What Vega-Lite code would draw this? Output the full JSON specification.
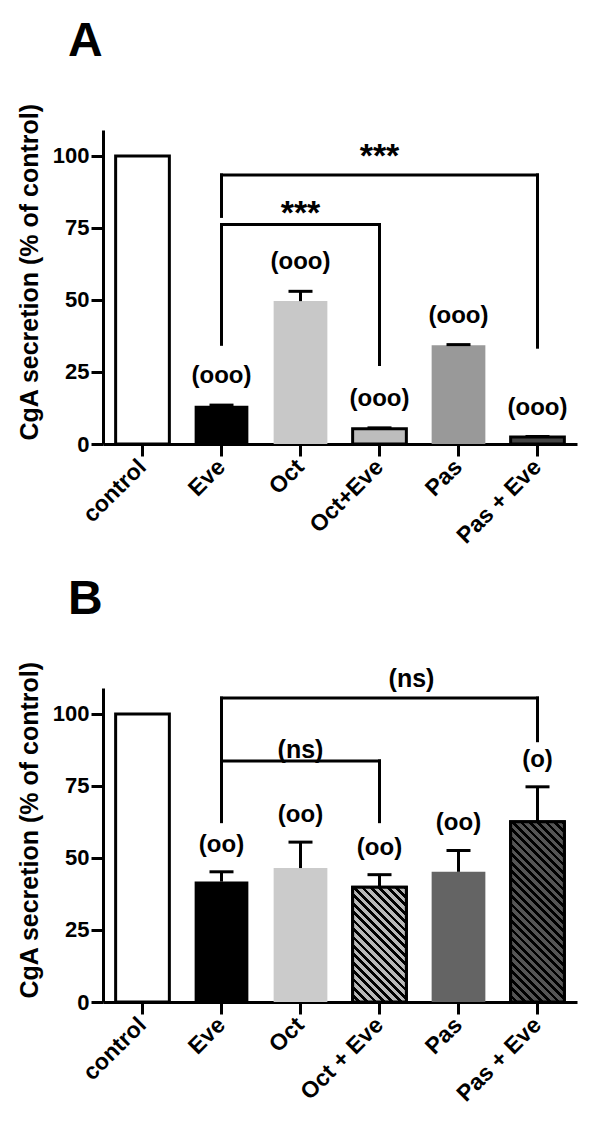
{
  "$schema": "https://vega.github.io/schema/vega-lite/v6.json",
  "background": "white",
  "padding": {"left": 17, "top": 18, "right": 5, "bottom": 5},
  "bounds": "flush",
  "spacing": 244,
  "resolve": {"scale": {"fill": "independent"}},
  "config": {
    "font": "Liberation Sans",
    "view": {"stroke": null},
    "axis": {"domainColor": "black", "domainWidth": 3, "tickColor": "black", "tickWidth": 3, "tickSize": 12, "labelColor": "black", "labelFontWeight": "bold", "labelFont": "Liberation Sans", "titleFont": "Liberation Sans", "titleFontWeight": "bold", "titleColor": "black", "grid": false},
    "title": {"font": "Liberation Sans", "fontWeight": "bold", "fontSize": 48, "color": "black", "anchor": "start", "frame": "group"}
  },
  "vconcat": [
    {
      "width": 474,
      "height": 314,
      "title": {"text": "A", "dx": -35, "offset": 36},
      "layer": [
        {
          "data": {"values": [
            {"treatment": "control", "value": 100},
            {"treatment": "Eve", "value": 13.3, "err": 13.5, "label": "(ooo)"},
            {"treatment": "Oct", "value": 49.6, "err": 53, "label": "(ooo)"},
            {"treatment": "Oct+Eve", "value": 5.3, "err": 5.6, "label": "(ooo)"},
            {"treatment": "Pas", "value": 34.3, "err": 34.5, "label": "(ooo)"},
            {"treatment": "Pas + Eve", "value": 2.4, "err": 2.6, "label": "(ooo)"}
          ]},
          "layer": [
            {
              "mark": {"type": "bar", "strokeWidth": 3},
              "encoding": {
                "x": {"field": "treatment", "type": "nominal", "scale": {"domain": ["control", "Eve", "Oct", "Oct+Eve", "Pas", "Pas + Eve"], "paddingInner": 0.32, "paddingOuter": 0.16}, "axis": {"title": null, "labelAngle": -45, "labelAlign": "right", "labelBaseline": "middle", "labelFontSize": 23, "labelPadding": 7}},
                "y": {"field": "value", "type": "quantitative", "scale": {"domain": [0, 109], "nice": false}, "axis": {"title": "CgA secretion (% of control)", "titleFontSize": 25, "titlePadding": 10, "titleAnchor": "start", "titleY": 310, "labelFontSize": 22, "labelPadding": 2, "values": [0, 25, 50, 75, 100]}},
                "fill": {"field": "treatment", "type": "nominal", "scale": {"domain": ["control", "Eve", "Oct", "Oct+Eve", "Pas", "Pas + Eve"], "range": ["#ffffff", "#000000", "#c8c8c8", "#bdbdbd", "#999999", "#444444"]}, "legend": null},
                "stroke": {"condition": {"test": "indexof(['control','Oct+Eve','Pas + Eve'], datum.treatment) >= 0", "value": "black"}, "value": null}
              }
            },
            {
              "transform": [{"filter": "datum.err > datum.value"}],
              "mark": {"type": "rule", "strokeWidth": 3, "color": "black"},
              "encoding": {"x": {"field": "treatment", "type": "nominal"}, "y": {"field": "value", "type": "quantitative"}, "y2": {"field": "err"}}
            },
            {
              "transform": [{"filter": "isValid(datum.err)"}],
              "mark": {"type": "tick", "size": 24, "thickness": 3, "color": "black", "opacity": 1},
              "encoding": {"x": {"field": "treatment", "type": "nominal"}, "y": {"field": "err", "type": "quantitative"}}
            },
            {
              "transform": [{"filter": "isValid(datum.label)"}],
              "mark": {"type": "text", "fontSize": 24, "fontWeight": "bold", "color": "black", "baseline": "middle", "dy": -29},
              "encoding": {"x": {"field": "treatment", "type": "nominal"}, "y": {"field": "err", "type": "quantitative"}, "text": {"field": "label"}}
            }
          ]
        },
        {
          "data": {"values": [
            {"from": "Eve", "to": "Pas + Eve", "y1": 93.4, "y2": 93.4},
            {"from": "Eve", "to": "Eve", "y1": 79, "y2": 93.4},
            {"from": "Pas + Eve", "to": "Pas + Eve", "y1": 33.6, "y2": 93.4},
            {"from": "Eve", "to": "Oct+Eve", "y1": 76.2, "y2": 76.2},
            {"from": "Eve", "to": "Eve", "y1": 34.6, "y2": 76.2},
            {"from": "Oct+Eve", "to": "Oct+Eve", "y1": 27.6, "y2": 76.2}
          ]},
          "mark": {"type": "rule", "strokeWidth": 3, "color": "black", "strokeCap": "square"},
          "encoding": {"x": {"field": "from", "type": "nominal"}, "x2": {"field": "to"}, "y": {"field": "y1", "type": "quantitative"}, "y2": {"field": "y2"}}
        },
        {
          "data": {"values": [
            {"at": "Oct+Eve", "level": 101.7, "sig": "***"},
            {"at": "Oct", "level": 81.8, "sig": "***"}
          ]},
          "mark": {"type": "text", "fontSize": 34, "fontWeight": "bold", "color": "black", "baseline": "middle", "dy": 6},
          "encoding": {"x": {"field": "at", "type": "nominal"}, "y": {"field": "level", "type": "quantitative"}, "text": {"field": "sig"}}
        }
      ]
    },
    {
      "width": 474,
      "height": 314,
      "title": {"text": "B", "dx": -35, "offset": 36},
      "layer": [
        {
          "data": {"values": [
            {"treatment": "control", "value": 100},
            {"treatment": "Eve", "value": 41.8, "err": 45.2, "label": "(oo)"},
            {"treatment": "Oct", "value": 46.5, "err": 55.5, "label": "(oo)"},
            {"treatment": "Oct + Eve", "value": 39.8, "err": 44.2, "label": "(oo)"},
            {"treatment": "Pas", "value": 45.2, "err": 52.6, "label": "(oo)"},
            {"treatment": "Pas + Eve", "value": 62.6, "err": 74.7, "label": "(o)"}
          ]},
          "layer": [
            {
              "mark": {"type": "bar", "strokeWidth": 3},
              "encoding": {
                "x": {"field": "treatment", "type": "nominal", "scale": {"domain": ["control", "Eve", "Oct", "Oct + Eve", "Pas", "Pas + Eve"], "paddingInner": 0.32, "paddingOuter": 0.16}, "axis": {"title": null, "labelAngle": -45, "labelAlign": "right", "labelBaseline": "middle", "labelFontSize": 23, "labelPadding": 7}},
                "y": {"field": "value", "type": "quantitative", "scale": {"domain": [0, 109], "nice": false}, "axis": {"title": "CgA secretion (% of control)", "titleFontSize": 25, "titlePadding": 10, "titleAnchor": "start", "titleY": 310, "labelFontSize": 22, "labelPadding": 2, "values": [0, 25, 50, 75, 100]}},
                "fill": {"field": "treatment", "type": "nominal", "scale": {"domain": ["control", "Eve", "Oct", "Oct + Eve", "Pas", "Pas + Eve"], "range": ["#ffffff", "#000000", "#cbcbcb", "#b8b8b8", "#646464", "#555555"]}, "legend": null},
                "stroke": {"condition": {"test": "indexof(['control','Oct + Eve','Pas + Eve'], datum.treatment) >= 0", "value": "black"}, "value": null}
              }
            },
            {
              "transform": [{"filter": "datum.treatment == 'Oct + Eve'"}],
              "mark": {"type": "bar", "strokeWidth": 3, "stroke": "black", "fill": {"gradient": "linear", "x1": 0, "y1": 1, "x2": 0.564, "y2": -0.204, "stops": [
                {"offset": 0, "color": "#b8b8b8"}, {"offset": 0.0275, "color": "#b8b8b8"}, {"offset": 0.0275, "color": "#000000"}, {"offset": 0.05, "color": "#000000"},
                {"offset": 0.05, "color": "#b8b8b8"}, {"offset": 0.0775, "color": "#b8b8b8"}, {"offset": 0.0775, "color": "#000000"}, {"offset": 0.1, "color": "#000000"},
                {"offset": 0.1, "color": "#b8b8b8"}, {"offset": 0.1275, "color": "#b8b8b8"}, {"offset": 0.1275, "color": "#000000"}, {"offset": 0.15, "color": "#000000"},
                {"offset": 0.15, "color": "#b8b8b8"}, {"offset": 0.1775, "color": "#b8b8b8"}, {"offset": 0.1775, "color": "#000000"}, {"offset": 0.2, "color": "#000000"},
                {"offset": 0.2, "color": "#b8b8b8"}, {"offset": 0.2275, "color": "#b8b8b8"}, {"offset": 0.2275, "color": "#000000"}, {"offset": 0.25, "color": "#000000"},
                {"offset": 0.25, "color": "#b8b8b8"}, {"offset": 0.2775, "color": "#b8b8b8"}, {"offset": 0.2775, "color": "#000000"}, {"offset": 0.3, "color": "#000000"},
                {"offset": 0.3, "color": "#b8b8b8"}, {"offset": 0.3275, "color": "#b8b8b8"}, {"offset": 0.3275, "color": "#000000"}, {"offset": 0.35, "color": "#000000"},
                {"offset": 0.35, "color": "#b8b8b8"}, {"offset": 0.3775, "color": "#b8b8b8"}, {"offset": 0.3775, "color": "#000000"}, {"offset": 0.4, "color": "#000000"},
                {"offset": 0.4, "color": "#b8b8b8"}, {"offset": 0.4275, "color": "#b8b8b8"}, {"offset": 0.4275, "color": "#000000"}, {"offset": 0.45, "color": "#000000"},
                {"offset": 0.45, "color": "#b8b8b8"}, {"offset": 0.4775, "color": "#b8b8b8"}, {"offset": 0.4775, "color": "#000000"}, {"offset": 0.5, "color": "#000000"},
                {"offset": 0.5, "color": "#b8b8b8"}, {"offset": 0.5275, "color": "#b8b8b8"}, {"offset": 0.5275, "color": "#000000"}, {"offset": 0.55, "color": "#000000"},
                {"offset": 0.55, "color": "#b8b8b8"}, {"offset": 0.5775, "color": "#b8b8b8"}, {"offset": 0.5775, "color": "#000000"}, {"offset": 0.6, "color": "#000000"},
                {"offset": 0.6, "color": "#b8b8b8"}, {"offset": 0.6275, "color": "#b8b8b8"}, {"offset": 0.6275, "color": "#000000"}, {"offset": 0.65, "color": "#000000"},
                {"offset": 0.65, "color": "#b8b8b8"}, {"offset": 0.6775, "color": "#b8b8b8"}, {"offset": 0.6775, "color": "#000000"}, {"offset": 0.7, "color": "#000000"},
                {"offset": 0.7, "color": "#b8b8b8"}, {"offset": 0.7275, "color": "#b8b8b8"}, {"offset": 0.7275, "color": "#000000"}, {"offset": 0.75, "color": "#000000"},
                {"offset": 0.75, "color": "#b8b8b8"}, {"offset": 0.7775, "color": "#b8b8b8"}, {"offset": 0.7775, "color": "#000000"}, {"offset": 0.8, "color": "#000000"},
                {"offset": 0.8, "color": "#b8b8b8"}, {"offset": 0.8275, "color": "#b8b8b8"}, {"offset": 0.8275, "color": "#000000"}, {"offset": 0.85, "color": "#000000"},
                {"offset": 0.85, "color": "#b8b8b8"}, {"offset": 0.8775, "color": "#b8b8b8"}, {"offset": 0.8775, "color": "#000000"}, {"offset": 0.9, "color": "#000000"},
                {"offset": 0.9, "color": "#b8b8b8"}, {"offset": 0.9275, "color": "#b8b8b8"}, {"offset": 0.9275, "color": "#000000"}, {"offset": 0.95, "color": "#000000"},
                {"offset": 0.95, "color": "#b8b8b8"}, {"offset": 0.9775, "color": "#b8b8b8"}, {"offset": 0.9775, "color": "#000000"}, {"offset": 1, "color": "#000000"}
              ]}},
              "encoding": {"x": {"field": "treatment", "type": "nominal"}, "y": {"field": "value", "type": "quantitative"}}
            },
            {
              "transform": [{"filter": "datum.treatment == 'Pas + Eve'"}],
              "mark": {"type": "bar", "strokeWidth": 3, "stroke": "black", "fill": {"gradient": "linear", "x1": 0, "y1": 1, "x2": 0.355, "y2": -0.192, "stops": [
                {"offset": 0, "color": "#555555"}, {"offset": 0.0196, "color": "#555555"}, {"offset": 0.0196, "color": "#000000"}, {"offset": 0.0357, "color": "#000000"},
                {"offset": 0.0357, "color": "#555555"}, {"offset": 0.0554, "color": "#555555"}, {"offset": 0.0554, "color": "#000000"}, {"offset": 0.0714, "color": "#000000"},
                {"offset": 0.0714, "color": "#555555"}, {"offset": 0.0911, "color": "#555555"}, {"offset": 0.0911, "color": "#000000"}, {"offset": 0.1071, "color": "#000000"},
                {"offset": 0.1071, "color": "#555555"}, {"offset": 0.1268, "color": "#555555"}, {"offset": 0.1268, "color": "#000000"}, {"offset": 0.1429, "color": "#000000"},
                {"offset": 0.1429, "color": "#555555"}, {"offset": 0.1625, "color": "#555555"}, {"offset": 0.1625, "color": "#000000"}, {"offset": 0.1786, "color": "#000000"},
                {"offset": 0.1786, "color": "#555555"}, {"offset": 0.1982, "color": "#555555"}, {"offset": 0.1982, "color": "#000000"}, {"offset": 0.2143, "color": "#000000"},
                {"offset": 0.2143, "color": "#555555"}, {"offset": 0.2339, "color": "#555555"}, {"offset": 0.2339, "color": "#000000"}, {"offset": 0.25, "color": "#000000"},
                {"offset": 0.25, "color": "#555555"}, {"offset": 0.2696, "color": "#555555"}, {"offset": 0.2696, "color": "#000000"}, {"offset": 0.2857, "color": "#000000"},
                {"offset": 0.2857, "color": "#555555"}, {"offset": 0.3054, "color": "#555555"}, {"offset": 0.3054, "color": "#000000"}, {"offset": 0.3214, "color": "#000000"},
                {"offset": 0.3214, "color": "#555555"}, {"offset": 0.3411, "color": "#555555"}, {"offset": 0.3411, "color": "#000000"}, {"offset": 0.3571, "color": "#000000"},
                {"offset": 0.3571, "color": "#555555"}, {"offset": 0.3768, "color": "#555555"}, {"offset": 0.3768, "color": "#000000"}, {"offset": 0.3929, "color": "#000000"},
                {"offset": 0.3929, "color": "#555555"}, {"offset": 0.4125, "color": "#555555"}, {"offset": 0.4125, "color": "#000000"}, {"offset": 0.4286, "color": "#000000"},
                {"offset": 0.4286, "color": "#555555"}, {"offset": 0.4482, "color": "#555555"}, {"offset": 0.4482, "color": "#000000"}, {"offset": 0.4643, "color": "#000000"},
                {"offset": 0.4643, "color": "#555555"}, {"offset": 0.4839, "color": "#555555"}, {"offset": 0.4839, "color": "#000000"}, {"offset": 0.5, "color": "#000000"},
                {"offset": 0.5, "color": "#555555"}, {"offset": 0.5196, "color": "#555555"}, {"offset": 0.5196, "color": "#000000"}, {"offset": 0.5357, "color": "#000000"},
                {"offset": 0.5357, "color": "#555555"}, {"offset": 0.5554, "color": "#555555"}, {"offset": 0.5554, "color": "#000000"}, {"offset": 0.5714, "color": "#000000"},
                {"offset": 0.5714, "color": "#555555"}, {"offset": 0.5911, "color": "#555555"}, {"offset": 0.5911, "color": "#000000"}, {"offset": 0.6071, "color": "#000000"},
                {"offset": 0.6071, "color": "#555555"}, {"offset": 0.6268, "color": "#555555"}, {"offset": 0.6268, "color": "#000000"}, {"offset": 0.6429, "color": "#000000"},
                {"offset": 0.6429, "color": "#555555"}, {"offset": 0.6625, "color": "#555555"}, {"offset": 0.6625, "color": "#000000"}, {"offset": 0.6786, "color": "#000000"},
                {"offset": 0.6786, "color": "#555555"}, {"offset": 0.6982, "color": "#555555"}, {"offset": 0.6982, "color": "#000000"}, {"offset": 0.7143, "color": "#000000"},
                {"offset": 0.7143, "color": "#555555"}, {"offset": 0.7339, "color": "#555555"}, {"offset": 0.7339, "color": "#000000"}, {"offset": 0.75, "color": "#000000"},
                {"offset": 0.75, "color": "#555555"}, {"offset": 0.7696, "color": "#555555"}, {"offset": 0.7696, "color": "#000000"}, {"offset": 0.7857, "color": "#000000"},
                {"offset": 0.7857, "color": "#555555"}, {"offset": 0.8054, "color": "#555555"}, {"offset": 0.8054, "color": "#000000"}, {"offset": 0.8214, "color": "#000000"},
                {"offset": 0.8214, "color": "#555555"}, {"offset": 0.8411, "color": "#555555"}, {"offset": 0.8411, "color": "#000000"}, {"offset": 0.8571, "color": "#000000"},
                {"offset": 0.8571, "color": "#555555"}, {"offset": 0.8768, "color": "#555555"}, {"offset": 0.8768, "color": "#000000"}, {"offset": 0.8929, "color": "#000000"},
                {"offset": 0.8929, "color": "#555555"}, {"offset": 0.9125, "color": "#555555"}, {"offset": 0.9125, "color": "#000000"}, {"offset": 0.9286, "color": "#000000"},
                {"offset": 0.9286, "color": "#555555"}, {"offset": 0.9482, "color": "#555555"}, {"offset": 0.9482, "color": "#000000"}, {"offset": 0.9643, "color": "#000000"},
                {"offset": 0.9643, "color": "#555555"}, {"offset": 0.9839, "color": "#555555"}, {"offset": 0.9839, "color": "#000000"}, {"offset": 1, "color": "#000000"}
              ]}},
              "encoding": {"x": {"field": "treatment", "type": "nominal"}, "y": {"field": "value", "type": "quantitative"}}
            },
            {
              "transform": [{"filter": "datum.err > datum.value"}],
              "mark": {"type": "rule", "strokeWidth": 3, "color": "black"},
              "encoding": {"x": {"field": "treatment", "type": "nominal"}, "y": {"field": "value", "type": "quantitative"}, "y2": {"field": "err"}}
            },
            {
              "transform": [{"filter": "isValid(datum.err)"}],
              "mark": {"type": "tick", "size": 24, "thickness": 3, "color": "black", "opacity": 1},
              "encoding": {"x": {"field": "treatment", "type": "nominal"}, "y": {"field": "err", "type": "quantitative"}}
            },
            {
              "transform": [{"filter": "isValid(datum.label)"}],
              "mark": {"type": "text", "fontSize": 24, "fontWeight": "bold", "color": "black", "baseline": "middle", "dy": -27},
              "encoding": {"x": {"field": "treatment", "type": "nominal"}, "y": {"field": "err", "type": "quantitative"}, "text": {"field": "label"}}
            }
          ]
        },
        {
          "data": {"values": [
            {"from": "Eve", "to": "Pas + Eve", "y1": 105.5, "y2": 105.5},
            {"from": "Eve", "to": "Eve", "y1": 76, "y2": 105.5},
            {"from": "Pas + Eve", "to": "Pas + Eve", "y1": 90.7, "y2": 105.5},
            {"from": "Eve", "to": "Oct + Eve", "y1": 83.7, "y2": 83.7},
            {"from": "Eve", "to": "Eve", "y1": 62.6, "y2": 83.7},
            {"from": "Oct + Eve", "to": "Oct + Eve", "y1": 62.6, "y2": 83.7}
          ]},
          "mark": {"type": "rule", "strokeWidth": 3, "color": "black", "strokeCap": "square"},
          "encoding": {"x": {"field": "from", "type": "nominal"}, "x2": {"field": "to"}, "y": {"field": "y1", "type": "quantitative"}, "y2": {"field": "y2"}}
        },
        {
          "data": {"values": [
            {"at": "Oct", "level": 87.5, "sig": "(ns)"}
          ]},
          "mark": {"type": "text", "fontSize": 25, "fontWeight": "bold", "color": "black", "baseline": "middle"},
          "encoding": {"x": {"field": "at", "type": "nominal"}, "y": {"field": "level", "type": "quantitative"}, "text": {"field": "sig"}}
        },
        {
          "data": {"values": [
            {"at": "Oct + Eve", "level": 112, "sig": "(ns)"}
          ]},
          "mark": {"type": "text", "fontSize": 25, "fontWeight": "bold", "color": "black", "baseline": "middle", "dx": 32},
          "encoding": {"x": {"field": "at", "type": "nominal"}, "y": {"field": "level", "type": "quantitative"}, "text": {"field": "sig"}}
        }
      ]
    }
  ]
}
